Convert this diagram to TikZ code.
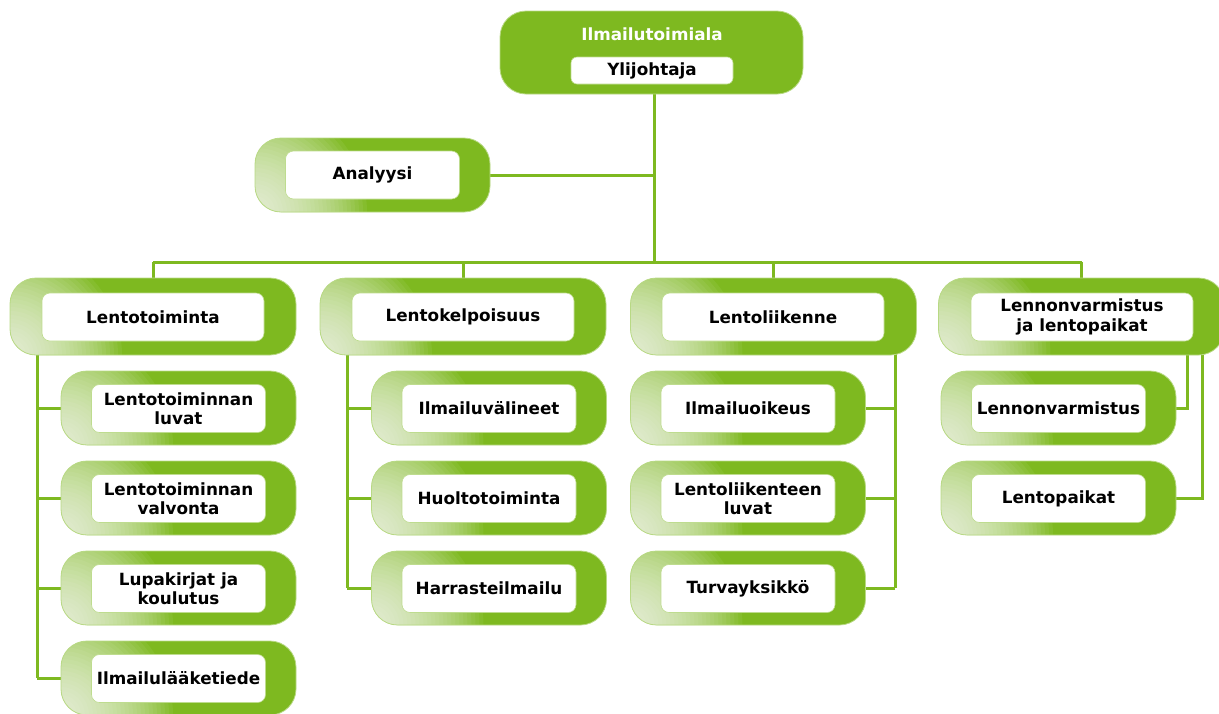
\documentclass[tikz,border=0pt]{standalone}
\usepackage{fontspec}
\setmainfont{DejaVu Sans}
\usetikzlibrary{backgrounds}
\definecolor{gr}{RGB}{126,185,32}
\begin{document}
\begin{tikzpicture}[x=1pt,y=-1pt,
  lbl/.style={font=\bfseries\fontsize{16.8}{19.5}\selectfont, align=center, text=black},
  outerbox/.style={draw=gr!55!white, line width=0.8pt, fill=gr, rounded corners=26pt, inner sep=0pt},
  grad/.style={path picture={\foreach \r in {4,8,...,112} \fill[sharp corners, white, opacity=0.06]
      (path picture bounding box.south west) circle (\r pt);}},
  headbox/.style={outerbox, grad, minimum width=286pt, minimum height=77pt},
  childbox/.style={outerbox, grad, minimum width=235pt, minimum height=74pt},
  inbox/.style={lbl, draw=gr!50!white, line width=0.6pt, fill=white, rounded corners=8pt, inner sep=0pt, minimum height=48pt},
  headin/.style={inbox, minimum width=222pt},
  childin/.style={inbox, minimum width=174pt},
  conn/.style={draw=gr, line width=3pt}
]
\useasboundingbox (0,0) rectangle (1219,713);

% top
\node[outerbox, minimum width=303pt, minimum height=83pt] (top) at (651.5,52.5) {};
\node[lbl, text=white] (title) at (652,34) {Ilmailutoimiala};
\node[inbox, rounded corners=6pt, minimum width=162pt, minimum height=27pt] (yli) at (652,70.5) {Ylijohtaja};

% Analyysi
\node[childbox] (an) at (372.5,175) {};
\node[childin] (ani) at (372.5,175) {Analyysi};

% heads
\node[headbox] (h1) at (153,316.5) {};
\node[headin] (h1i) at (153,317) {Lentotoiminta};
\node[headbox] (h2) at (463,316.5) {};
\node[headin] (h2i) at (463,317) {Lentokelpoisuus};
\node[headbox] (h3) at (773.5,316.5) {};
\node[headin] (h3i) at (773,317) {Lentoliikenne};
\node[headbox] (h4) at (1081.5,316.5) {};
\node[headin] (h4i) at (1082,317) {Lennonvarmistus\\ja lentopaikat};

% column 1
\node[childbox] (a1) at (178.5,408) {};
\node[childin] (a1i) at (178.5,408.5) {Lentotoiminnan\\luvat};
\node[childbox] (a2) at (178.5,498) {};
\node[childin] (a2i) at (178.5,498.5) {Lentotoiminnan\\valvonta};
\node[childbox] (a3) at (178.5,588) {};
\node[childin] (a3i) at (178.5,588.5) {Lupakirjat ja\\koulutus};
\node[childbox] (a4) at (178.5,678) {};
\node[childin] (a4i) at (178.5,678.5) {Ilmailulääketiede};

% column 2
\node[childbox] (b1) at (489,408) {};
\node[childin] (b1i) at (489,408.5) {Ilmailuvälineet};
\node[childbox] (b2) at (489,498) {};
\node[childin] (b2i) at (489,498.5) {Huoltotoiminta};
\node[childbox] (b3) at (489,588) {};
\node[childin] (b3i) at (489,588.5) {Harrasteilmailu};

% column 3
\node[childbox] (c1) at (748,408) {};
\node[childin] (c1i) at (748,408.5) {Ilmailuoikeus};
\node[childbox] (c2) at (748,498) {};
\node[childin] (c2i) at (748,498.5) {Lentoliikenteen\\luvat};
\node[childbox] (c3) at (748,588) {};
\node[childin] (c3i) at (748,588.5) {Turvayksikkö};

% column 4
\node[childbox] (d1) at (1058.5,408) {};
\node[childin] (d1i) at (1058.5,408.5) {Lennonvarmistus};
\node[childbox] (d2) at (1058.5,498) {};
\node[childin] (d2i) at (1058.5,498.5) {Lentopaikat};

\coordinate (trunk) at (654,262);
\coordinate (x1) at (37,0);
\coordinate (x2) at (347,0);
\coordinate (x3) at (895,0);
\coordinate (x4a) at (1187,0);
\coordinate (x4b) at (1202,0);

\begin{scope}[on background layer]
  \draw[conn] (top.center -| trunk) -- (trunk);
  \draw[conn] (an.center) -- (an.center -| trunk);
  \draw[conn] (h1.center |- trunk) -- (h4.center |- trunk);
  \foreach \h in {h1,h2,h3,h4} \draw[conn] (\h.center |- trunk) -- (\h.center);
  % col 1
  \draw[conn] (h1.center -| x1) -- (a4.center -| x1);
  \foreach \c in {a1,a2,a3,a4} \draw[conn] (\c.center -| x1) -- (\c.center);
  % col 2
  \draw[conn] (h2.center -| x2) -- (b3.center -| x2);
  \foreach \c in {b1,b2,b3} \draw[conn] (\c.center -| x2) -- (\c.center);
  % col 3
  \draw[conn] (h3.center -| x3) -- (c3.center -| x3);
  \foreach \c in {c1,c2,c3} \draw[conn] (\c.center -| x3) -- (\c.center);
  % col 4
  \draw[conn] (h4.center -| x4a) -- (d1.center -| x4a) -- (d1.center);
  \draw[conn] (h4.center -| x4b) -- (d2.center -| x4b) -- (d2.center);
\end{scope}
\end{tikzpicture}
\end{document}
